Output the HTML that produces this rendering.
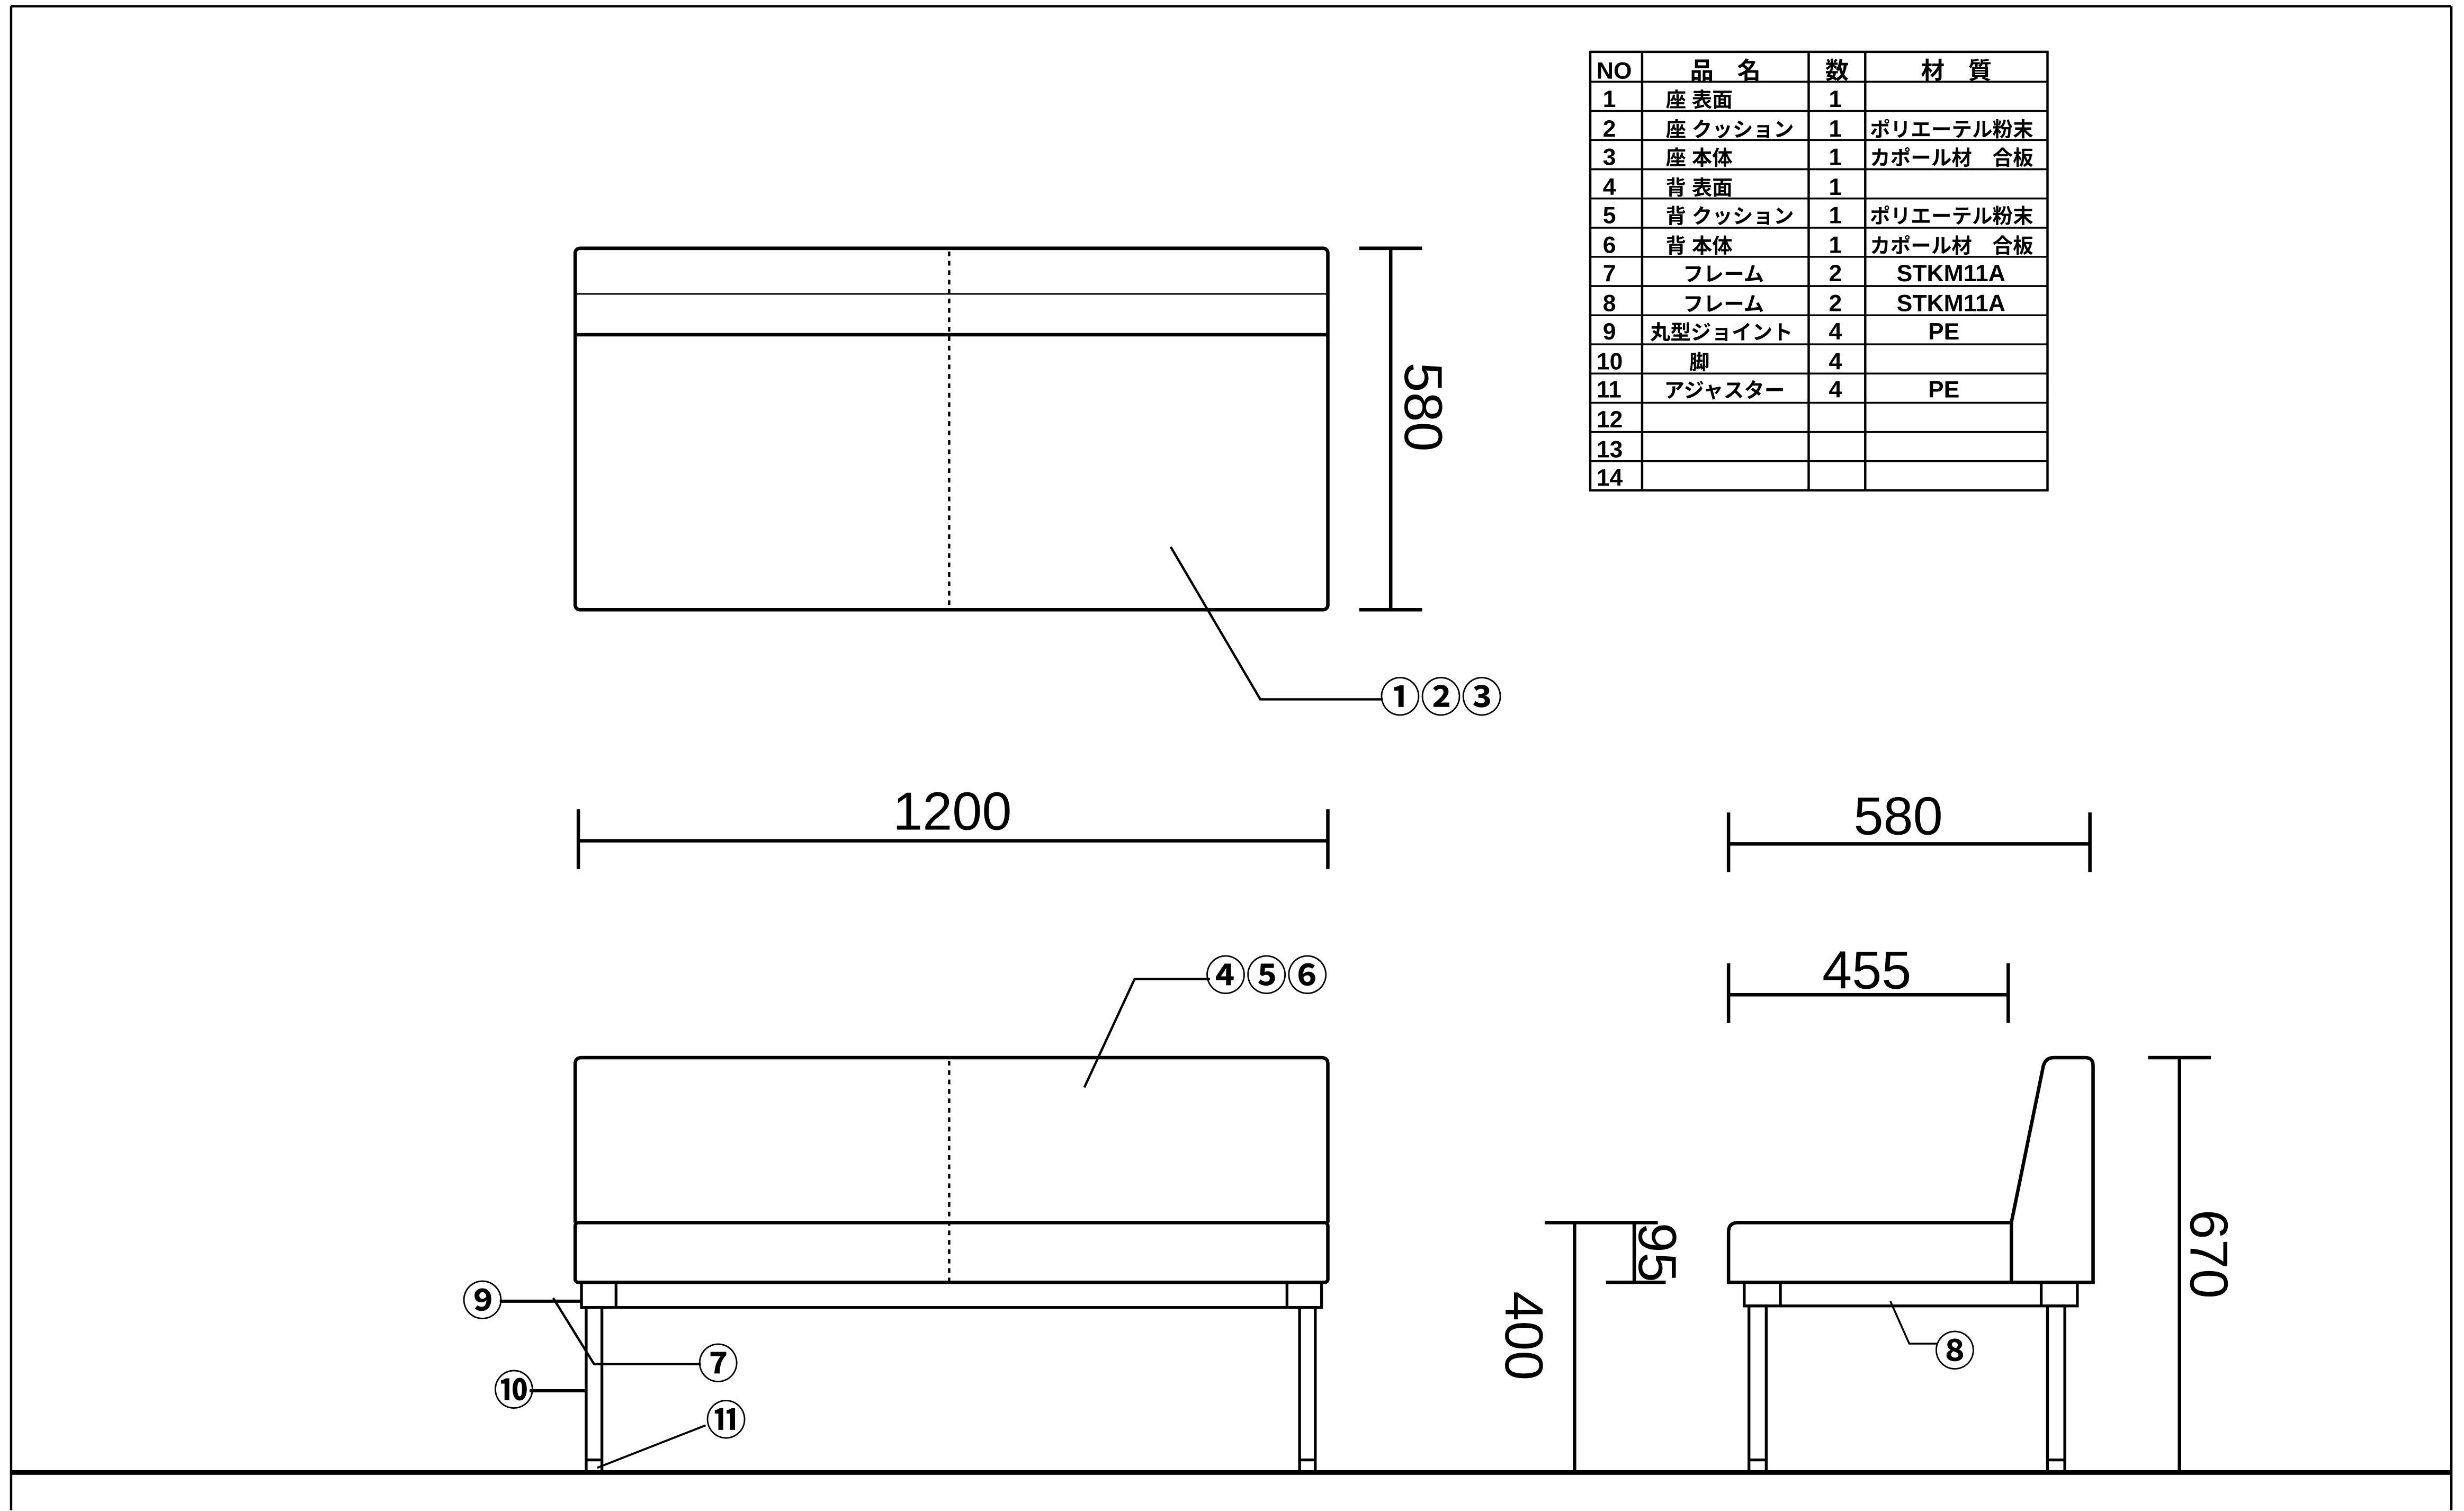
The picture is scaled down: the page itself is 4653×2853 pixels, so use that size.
<!DOCTYPE html>
<html><head><meta charset="utf-8"><style>html,body{margin:0;padding:0;background:#fff}svg{display:block}</style></head>
<body>
<svg width="4653" height="2853" viewBox="0 0 1568 961.5" xmlns="http://www.w3.org/2000/svg" font-family="'Liberation Sans','Noto Sans CJK JP',sans-serif">
<rect width="1568" height="961.5" fill="#fff"/>
<g stroke="#000" fill="none" stroke-width="1.5">
<line x1="7" y1="4" x2="1560" y2="4"/>
<line x1="7" y1="4" x2="7" y2="961"/>
<line x1="1560" y1="4" x2="1560" y2="961"/>
<line x1="7" y1="937" x2="1560" y2="937" stroke-width="3"/>
<rect x="1012" y="33" width="291" height="279"/>
<line x1="1045" y1="33" x2="1045" y2="312"/>
<line x1="1151" y1="33" x2="1151" y2="312"/>
<line x1="1187" y1="33" x2="1187" y2="312"/>
</g>
<g stroke="#000" stroke-width="1.2">
<line x1="1012" y1="52" x2="1303" y2="52"/><line x1="1012" y1="70.6" x2="1303" y2="70.6"/><line x1="1012" y1="89.1" x2="1303" y2="89.1"/><line x1="1012" y1="107.7" x2="1303" y2="107.7"/><line x1="1012" y1="126.3" x2="1303" y2="126.3"/><line x1="1012" y1="144.9" x2="1303" y2="144.9"/><line x1="1012" y1="163.4" x2="1303" y2="163.4"/><line x1="1012" y1="182" x2="1303" y2="182"/><line x1="1012" y1="200.6" x2="1303" y2="200.6"/><line x1="1012" y1="219.1" x2="1303" y2="219.1"/><line x1="1012" y1="237.7" x2="1303" y2="237.7"/><line x1="1012" y1="256.3" x2="1303" y2="256.3"/><line x1="1012" y1="274.9" x2="1303" y2="274.9"/><line x1="1012" y1="293.4" x2="1303" y2="293.4"/>
</g>
<g font-size="15" font-weight="bold" fill="#000">
<text x="1016" y="50">NO</text>
<text x="1098" y="50" text-anchor="middle">品　名</text>
<text x="1169" y="50" text-anchor="middle">数</text>
<text x="1245" y="50" text-anchor="middle">材　質</text>
<g font-size="15">
<text x="1020" y="68">1</text><text x="1020" y="87">2</text><text x="1020" y="105">3</text><text x="1020" y="124">4</text><text x="1020" y="142">5</text><text x="1020" y="161">6</text><text x="1020" y="179">7</text><text x="1020" y="198">8</text><text x="1020" y="216">9</text><text x="1016" y="235">10</text><text x="1016" y="253">11</text><text x="1016" y="272">12</text><text x="1016" y="291">13</text><text x="1016" y="309">14</text>
<text x="1168" y="68" text-anchor="middle">1</text><text x="1168" y="87" text-anchor="middle">1</text><text x="1168" y="105" text-anchor="middle">1</text><text x="1168" y="124" text-anchor="middle">1</text><text x="1168" y="142" text-anchor="middle">1</text><text x="1168" y="161" text-anchor="middle">1</text><text x="1168" y="179" text-anchor="middle">2</text><text x="1168" y="198" text-anchor="middle">2</text><text x="1168" y="216" text-anchor="middle">4</text><text x="1168" y="235" text-anchor="middle">4</text><text x="1168" y="253" text-anchor="middle">4</text>
</g>
<g font-size="13">
<text x="1060" y="68">座 表面</text><text x="1060" y="87">座 クッション</text><text x="1060" y="105">座 本体</text><text x="1060" y="124">背 表面</text><text x="1060" y="142">背 クッション</text><text x="1060" y="161">背 本体</text>
<text x="1071" y="179">フレーム</text><text x="1071" y="198">フレーム</text><text x="1050" y="216">丸型ジョイント</text><text x="1075" y="235">脚</text><text x="1059" y="253">アジャスター</text>
<text x="1190" y="87">ポリエーテル粉末</text><text x="1190" y="105">カポール材　合板</text><text x="1190" y="142">ポリエーテル粉末</text><text x="1190" y="161">カポール材　合板</text>
<text x="1207" y="179" font-size="15">STKM11A</text><text x="1207" y="198" font-size="15">STKM11A</text><text x="1227" y="216" font-size="15">PE</text><text x="1227" y="253" font-size="15">PE</text>
</g>
</g>

<g stroke="#000" fill="none" stroke-width="2.2">
<rect x="366" y="158" width="479" height="230" rx="3"/>
<line x1="366" y1="187" x2="845" y2="187" stroke-width="1"/>
<line x1="366" y1="213" x2="845" y2="213"/>
<line x1="604" y1="160" x2="604" y2="388" stroke-dasharray="3,3" stroke-width="1.5"/>
<line x1="885" y1="158" x2="885" y2="388"/>
<line x1="865" y1="158" x2="905" y2="158"/>
<line x1="865" y1="388" x2="905" y2="388"/>
<polyline points="745,348 802,445 880,445" stroke-width="1.5"/>

<line x1="368" y1="535" x2="845" y2="535"/>
<line x1="368" y1="515" x2="368" y2="553"/>
<line x1="845" y1="515" x2="845" y2="553"/>
<line x1="1100" y1="537" x2="1330" y2="537"/>
<line x1="1100" y1="517" x2="1100" y2="555"/>
<line x1="1330" y1="517" x2="1330" y2="555"/>
<line x1="1100" y1="633" x2="1278" y2="633"/>
<line x1="1100" y1="613" x2="1100" y2="651"/>
<line x1="1278" y1="613" x2="1278" y2="651"/>

<path d="M366,778 V677 Q366,673 370,673 H841 Q845,673 845,677 V778"/>
<rect x="366" y="778" width="479" height="38" rx="2"/>
<line x1="604" y1="675" x2="604" y2="816" stroke-dasharray="3,3" stroke-width="1.5"/>
<g stroke-width="1.8">
<rect x="370" y="816" width="471" height="16"/>
<line x1="392" y1="816" x2="392" y2="832"/>
<line x1="819" y1="816" x2="819" y2="832"/>
<rect x="373" y="832" width="10" height="105"/>
<rect x="827" y="832" width="10" height="105"/>
<line x1="373" y1="929" x2="383" y2="929"/>
<line x1="827" y1="929" x2="837" y2="929"/>
</g>
<polyline points="690,692 722,623 770,623" stroke-width="1.5"/>
<line x1="318" y1="828" x2="370" y2="828" stroke-width="2"/>
<polyline points="352,826 378,868 446,868" stroke-width="1.5"/>
<line x1="337" y1="885" x2="373" y2="885" stroke-width="2"/>
<line x1="449" y1="907" x2="380" y2="934" stroke-width="1.3"/>

<path d="M1100,816 V784 Q1100,778 1106,778 H1280 V816 Z"/>
<path d="M1280,778 L1300,680 Q1301,673 1307,673 H1327 Q1332,673 1332,678 V816 H1280"/>
<g stroke-width="1.8">
<rect x="1110" y="816" width="212" height="15"/>
<line x1="1133" y1="816" x2="1133" y2="831"/>
<line x1="1299" y1="816" x2="1299" y2="831"/>
<rect x="1113" y="831" width="11" height="106"/>
<rect x="1303" y="831" width="11" height="106"/>
<line x1="1113" y1="929" x2="1124" y2="929"/>
<line x1="1303" y1="929" x2="1314" y2="929"/>
</g>
<polyline points="1203,828 1215,855 1233,855" stroke-width="1.2"/>
<line x1="1002" y1="778" x2="1002" y2="937"/>
<line x1="983" y1="778" x2="1055" y2="778"/>
<line x1="1040" y1="778" x2="1040" y2="816"/>
<line x1="1022" y1="816" x2="1060" y2="816"/>
<line x1="1387" y1="673" x2="1387" y2="937"/>
<line x1="1367" y1="673" x2="1407" y2="673"/>
</g>

<g fill="#000" font-size="34">
<text x="606" y="528" text-anchor="middle">1200</text>
<text x="1208" y="531" text-anchor="middle">580</text>
<text x="1188" y="629" text-anchor="middle">455</text>
<text transform="translate(894,259) rotate(90)" text-anchor="middle">580</text>
<text transform="translate(1394,798) rotate(90)" text-anchor="middle">670</text>
<text transform="translate(958,850) rotate(90)" text-anchor="middle">400</text>
<text transform="translate(1043,797) rotate(90)" text-anchor="middle">95</text>
</g>
<g fill="#000" font-size="26" font-weight="bold">
<text x="878" y="453">①②③</text>
<text x="767" y="630">④⑤⑥</text>
<text x="294" y="837">⑨</text>
<text x="444" y="877">⑦</text>
<text x="314" y="894">⑩</text>
<text x="449" y="913">⑪</text>
<text x="1231" y="869">⑧</text>
</g>
</svg>
</body></html>
